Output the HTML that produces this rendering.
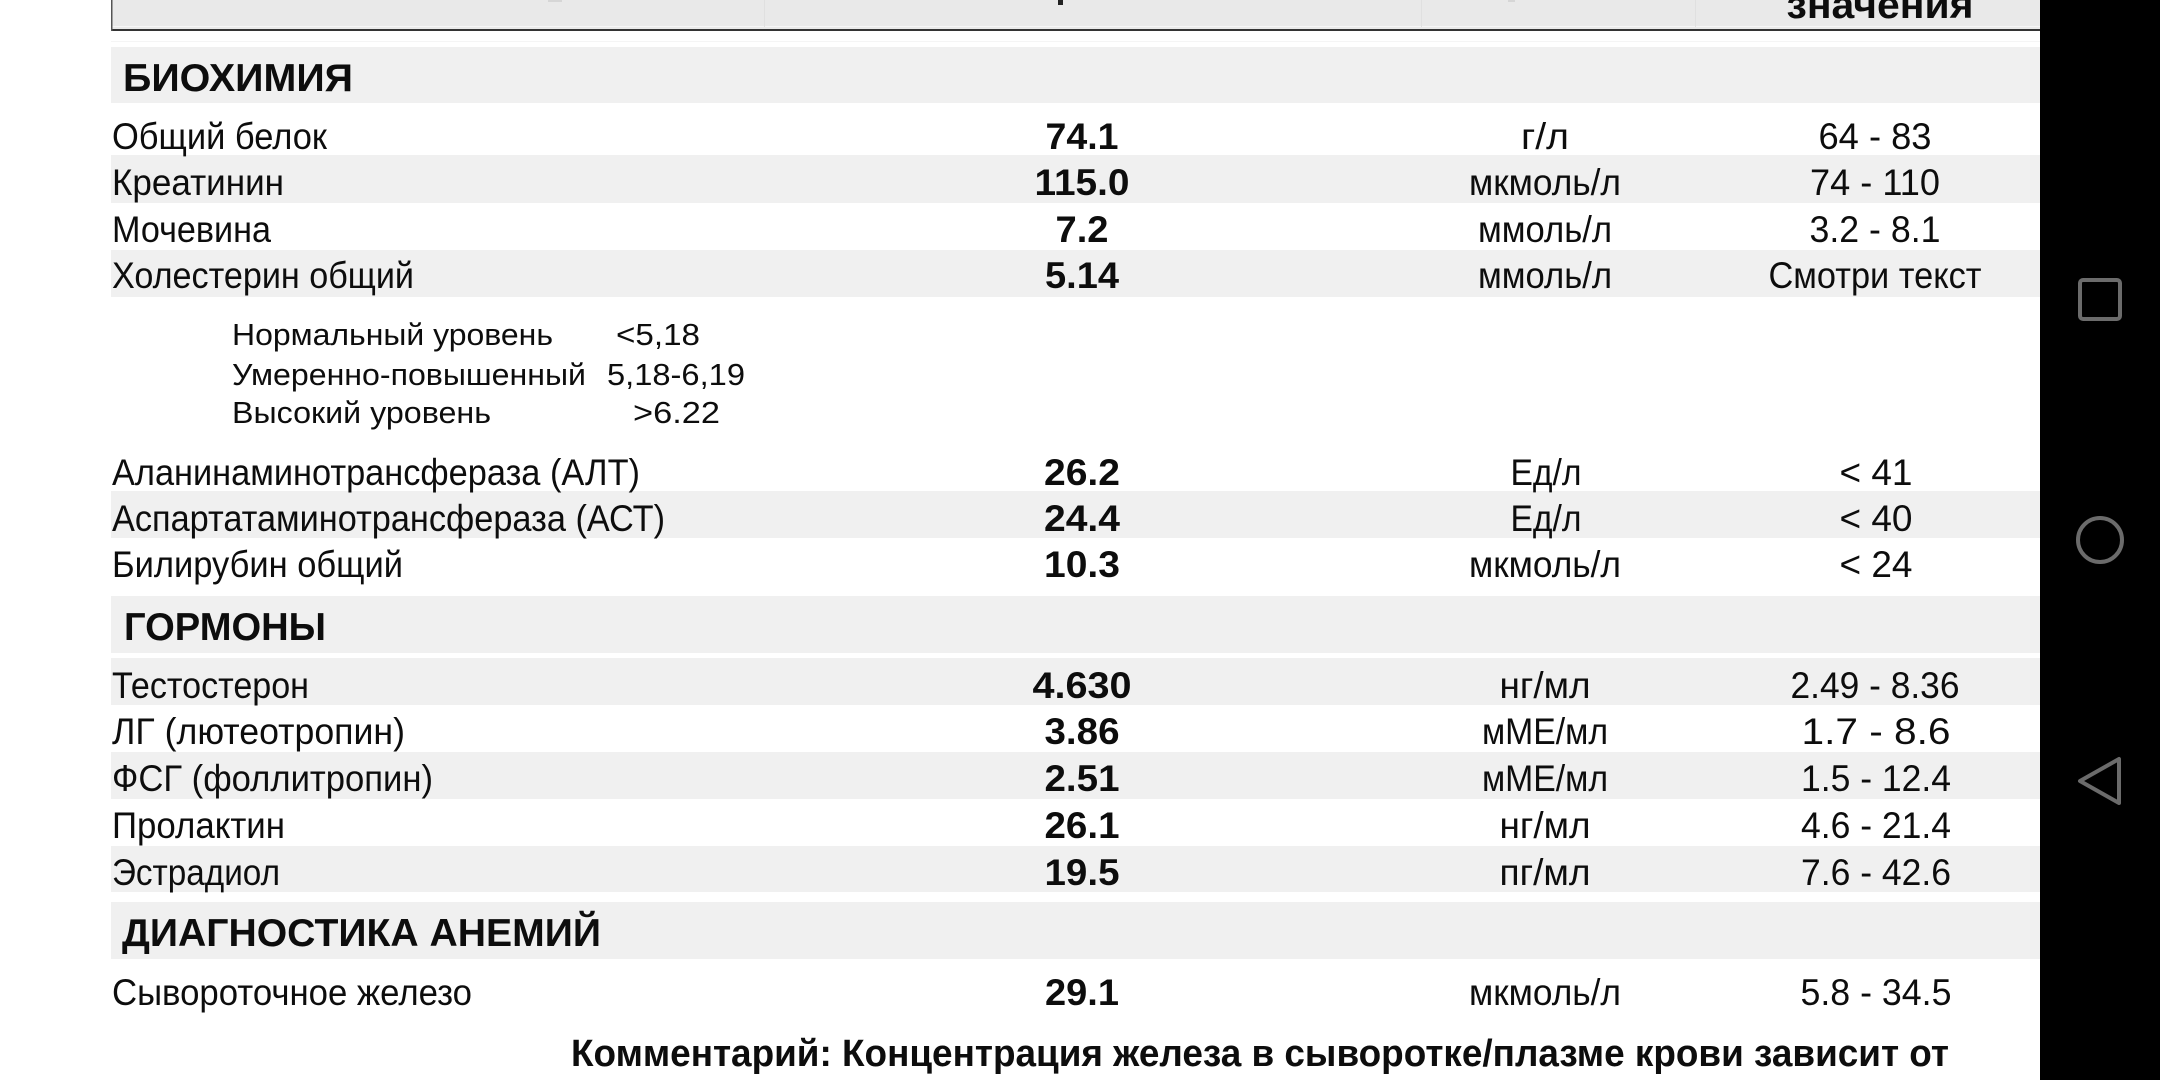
<!DOCTYPE html>
<html><head><meta charset="utf-8"><style>
html,body{margin:0;padding:0;background:#fff;}
svg{display:block;}
text{font-family:"Liberation Sans","Noto Sans CJK SC",sans-serif;fill:#0d0d0d;}
.r{font-size:37px;}
.b{font-size:37px;font-weight:bold;}
.h{font-size:39px;font-weight:bold;}
.c{font-size:38px;font-weight:bold;}
.n{font-size:31px;}
</style></head><body>
<svg width="2160" height="1080" viewBox="0 0 2160 1080" xmlns="http://www.w3.org/2000/svg">
<rect x="0" y="0" width="2160" height="1080" fill="#ffffff"/>
<!-- header -->
<rect x="111" y="0" width="1929" height="30" fill="#e9e9e9"/>
<rect x="111" y="26" width="1929" height="1" fill="#f6f6f6"/>
<rect x="111" y="29" width="1929" height="2" fill="#333"/>
<rect x="111" y="0" width="1.5" height="31" fill="#555"/>
<rect x="764" y="0" width="1" height="27" fill="#e0e0e0"/>
<rect x="1421" y="0" width="1" height="27" fill="#e0e0e0"/>
<rect x="1695" y="0" width="1" height="27" fill="#e0e0e0"/>
<rect x="1058" y="0" width="5" height="5" fill="#222"/>
<rect x="548" y="0" width="14" height="2" fill="#d6d6d6"/>
<rect x="1508" y="0" width="7" height="2" fill="#d6d6d6"/>
<text class="h" x="1880" y="18" text-anchor="middle" textLength="187" lengthAdjust="spacingAndGlyphs">значения</text>
<rect x="111" y="41" width="1929" height="1" fill="#f5f5f5"/>

<!-- bands -->
<g fill="#f0f0f0">
<rect x="111" y="47" width="1929" height="56"/>
<rect x="111" y="155" width="1929" height="48"/>
<rect x="111" y="250" width="1929" height="47"/>
<rect x="111" y="491" width="1929" height="47"/>
<rect x="111" y="596" width="1929" height="57"/>
<rect x="111" y="658" width="1929" height="47"/>
<rect x="111" y="752" width="1929" height="47"/>
<rect x="111" y="846" width="1929" height="46"/>
<rect x="111" y="902" width="1929" height="57"/>
</g>

<!-- section headings -->
<text class="h" x="123" y="91" textLength="230" lengthAdjust="spacingAndGlyphs">БИОХИМИЯ</text>
<text class="h" x="124" y="640" textLength="202" lengthAdjust="spacingAndGlyphs">ГОРМОНЫ</text>
<text class="h" x="122" y="946" textLength="479" lengthAdjust="spacingAndGlyphs">ДИАГНОСТИКА АНЕМИЙ</text>

<!-- labels -->
<text class="r" x="112" y="149" textLength="215" lengthAdjust="spacingAndGlyphs">Общий белок</text>
<text class="r" x="112" y="195" textLength="172" lengthAdjust="spacingAndGlyphs">Креатинин</text>
<text class="r" x="112" y="242" textLength="159" lengthAdjust="spacingAndGlyphs">Мочевина</text>
<text class="r" x="112" y="288" textLength="302" lengthAdjust="spacingAndGlyphs">Холестерин общий</text>

<text class="n" x="232" y="345" textLength="321" lengthAdjust="spacingAndGlyphs">Нормальный уровень</text>
<text class="n" x="616" y="345" textLength="84" lengthAdjust="spacingAndGlyphs">&lt;5,18</text>
<text class="n" x="232" y="385" textLength="354" lengthAdjust="spacingAndGlyphs">Умеренно-повышенный</text>
<text class="n" x="607" y="385" textLength="138" lengthAdjust="spacingAndGlyphs">5,18-6,19</text>
<text class="n" x="232" y="423" textLength="259" lengthAdjust="spacingAndGlyphs">Высокий уровень</text>
<text class="n" x="633" y="423" textLength="87" lengthAdjust="spacingAndGlyphs">&gt;6.22</text>

<text class="r" x="112" y="485" textLength="528" lengthAdjust="spacingAndGlyphs">Аланинаминотрансфераза (АЛТ)</text>
<text class="r" x="112" y="531" textLength="553" lengthAdjust="spacingAndGlyphs">Аспартатаминотрансфераза (АСТ)</text>
<text class="r" x="112" y="577" textLength="291" lengthAdjust="spacingAndGlyphs">Билирубин общий</text>

<text class="r" x="112" y="698" textLength="197" lengthAdjust="spacingAndGlyphs">Тестостерон</text>
<text class="r" x="112" y="744" textLength="293" lengthAdjust="spacingAndGlyphs">ЛГ (лютеотропин)</text>
<text class="r" x="112" y="791" textLength="321" lengthAdjust="spacingAndGlyphs">ФСГ (фоллитропин)</text>
<text class="r" x="112" y="838" textLength="173" lengthAdjust="spacingAndGlyphs">Пролактин</text>
<text class="r" x="112" y="885" textLength="168" lengthAdjust="spacingAndGlyphs">Эстрадиол</text>
<text class="r" x="112" y="1005" textLength="360" lengthAdjust="spacingAndGlyphs">Сывороточное железо</text>

<!-- values -->
<g text-anchor="middle">
<text class="b" x="1082" y="149" textLength="73" lengthAdjust="spacingAndGlyphs">74.1</text>
<text class="b" x="1082" y="195" textLength="95" lengthAdjust="spacingAndGlyphs">115.0</text>
<text class="b" x="1082" y="242" textLength="53" lengthAdjust="spacingAndGlyphs">7.2</text>
<text class="b" x="1082" y="288" textLength="74" lengthAdjust="spacingAndGlyphs">5.14</text>
<text class="b" x="1082" y="485" textLength="76" lengthAdjust="spacingAndGlyphs">26.2</text>
<text class="b" x="1082" y="531" textLength="76" lengthAdjust="spacingAndGlyphs">24.4</text>
<text class="b" x="1082" y="577" textLength="76" lengthAdjust="spacingAndGlyphs">10.3</text>
<text class="b" x="1082" y="698" textLength="99" lengthAdjust="spacingAndGlyphs">4.630</text>
<text class="b" x="1082" y="744" textLength="75" lengthAdjust="spacingAndGlyphs">3.86</text>
<text class="b" x="1082" y="791" textLength="75" lengthAdjust="spacingAndGlyphs">2.51</text>
<text class="b" x="1082" y="838" textLength="75" lengthAdjust="spacingAndGlyphs">26.1</text>
<text class="b" x="1082" y="885" textLength="75" lengthAdjust="spacingAndGlyphs">19.5</text>
<text class="b" x="1082" y="1005" textLength="74" lengthAdjust="spacingAndGlyphs">29.1</text>

<!-- units -->
<text class="r" x="1545" y="149" textLength="48" lengthAdjust="spacingAndGlyphs">г/л</text>
<text class="r" x="1545" y="195" textLength="152" lengthAdjust="spacingAndGlyphs">мкмоль/л</text>
<text class="r" x="1545" y="242" textLength="134" lengthAdjust="spacingAndGlyphs">ммоль/л</text>
<text class="r" x="1545" y="288" textLength="134" lengthAdjust="spacingAndGlyphs">ммоль/л</text>
<text class="r" x="1546" y="485" textLength="71" lengthAdjust="spacingAndGlyphs">Ед/л</text>
<text class="r" x="1546" y="531" textLength="71" lengthAdjust="spacingAndGlyphs">Ед/л</text>
<text class="r" x="1545" y="577" textLength="152" lengthAdjust="spacingAndGlyphs">мкмоль/л</text>
<text class="r" x="1545" y="698" textLength="91" lengthAdjust="spacingAndGlyphs">нг/мл</text>
<text class="r" x="1545" y="744" textLength="126" lengthAdjust="spacingAndGlyphs">мМЕ/мл</text>
<text class="r" x="1545" y="791" textLength="126" lengthAdjust="spacingAndGlyphs">мМЕ/мл</text>
<text class="r" x="1545" y="838" textLength="91" lengthAdjust="spacingAndGlyphs">нг/мл</text>
<text class="r" x="1545" y="885" textLength="91" lengthAdjust="spacingAndGlyphs">пг/мл</text>
<text class="r" x="1545" y="1005" textLength="152" lengthAdjust="spacingAndGlyphs">мкмоль/л</text>

<!-- ranges -->
<text class="r" x="1875" y="149" textLength="113" lengthAdjust="spacingAndGlyphs">64 - 83</text>
<text class="r" x="1875" y="195" textLength="130" lengthAdjust="spacingAndGlyphs">74 - 110</text>
<text class="r" x="1875" y="242" textLength="131" lengthAdjust="spacingAndGlyphs">3.2 - 8.1</text>
<text class="r" x="1875" y="288" textLength="213" lengthAdjust="spacingAndGlyphs">Смотри текст</text>
<text class="r" x="1876" y="485" textLength="73" lengthAdjust="spacingAndGlyphs">&lt; 41</text>
<text class="r" x="1876" y="531" textLength="73" lengthAdjust="spacingAndGlyphs">&lt; 40</text>
<text class="r" x="1876" y="577" textLength="73" lengthAdjust="spacingAndGlyphs">&lt; 24</text>
<text class="r" x="1875" y="698" textLength="169" lengthAdjust="spacingAndGlyphs">2.49 - 8.36</text>
<text class="r" x="1876" y="744" textLength="149" lengthAdjust="spacingAndGlyphs">1.7 - 8.6</text>
<text class="r" x="1876" y="791" textLength="150" lengthAdjust="spacingAndGlyphs">1.5 - 12.4</text>
<text class="r" x="1876" y="838" textLength="150" lengthAdjust="spacingAndGlyphs">4.6 - 21.4</text>
<text class="r" x="1876" y="885" textLength="150" lengthAdjust="spacingAndGlyphs">7.6 - 42.6</text>
<text class="r" x="1876" y="1005" textLength="151" lengthAdjust="spacingAndGlyphs">5.8 - 34.5</text>
</g>

<!-- comment -->
<text class="c" x="571" y="1066" textLength="1378" lengthAdjust="spacingAndGlyphs">Комментарий: Концентрация железа в сыворотке/плазме крови зависит от</text>

<!-- nav bar -->
<rect x="2040" y="0" width="120" height="1080" fill="#000"/>
<g fill="none" stroke="#6b6b6b" stroke-width="4" stroke-linejoin="round">
<rect x="2080" y="280" width="40" height="39" rx="3"/>
<circle cx="2100" cy="540" r="22"/>
<path d="M2080 781 L2119 759 L2119 803 Z"/>
</g>
</svg>
</body></html>
